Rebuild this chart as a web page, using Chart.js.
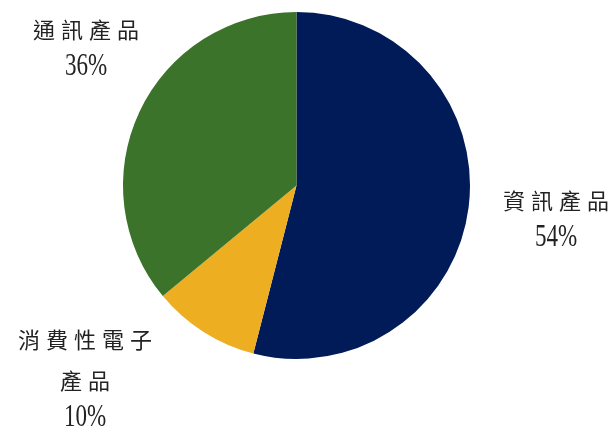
<!DOCTYPE html>
<html><head><meta charset="utf-8">
<script src="https://cdn.jsdelivr.net/npm/chart.js@4"></script>
<style>html,body{margin:0;padding:0;background:#fff;}canvas{display:block;}</style>
</head><body>
<canvas id="c" width="614" height="430"></canvas>
<script>
const categories = ["資訊產品", "消費性電子產品", "通訊產品"];
const shares = [54, 10, 36];
const sliceColors = ["#001B57", "#EDAE22", "#3A7329"];
// label text lines (layout only)
const labelLines = [["資訊產品"], ["消費性電子", "產品"], ["通訊產品"]];
const labelPos = [
  {x: 556, ys: [201], pctY: 238},
  {x: 85, ys: [340, 381], pctY: 418},
  {x: 86, ys: [30], pctY: 67}
];

const labelPlugin = {
  id: 'labels',
  afterDraw(chart) {
    const ctx = chart.ctx;
    ctx.save();
    ctx.fillStyle = '#222';
    ctx.textBaseline = 'middle';
    ctx.textAlign = 'center';
    const pitch = 28;
    categories.forEach((c, i) => {
      const p = labelPos[i];
      ctx.font = '22px "Noto Sans CJK TC"';
      labelLines[i].forEach((line, li) => {
        const chars = Array.from(line);
        const start = p.x - (chars.length - 1) * pitch / 2;
        chars.forEach((ch, k) => ctx.fillText(ch, start + k * pitch, p.ys[li]));
      });
      ctx.save();
      ctx.translate(p.x, p.pctY);
      ctx.scale(0.72, 1);
      ctx.font = '32px "Liberation Serif"';
      ctx.fillText(shares[i] + '%', 0, 0);
      ctx.restore();
    });
    ctx.restore();
  }
};

new Chart(document.getElementById('c'), {
  type: 'pie',
  data: {
    labels: categories,
    datasets: [{ data: shares, backgroundColor: sliceColors, borderWidth: 0 }]
  },
  options: {
    responsive: false,
    animation: false,
    layout: { padding: { left: 123, right: 144, top: 12, bottom: 71 } },
    plugins: { legend: { display: false }, tooltip: { enabled: false } }
  },
  plugins: [labelPlugin]
});
</script>
</body></html>
